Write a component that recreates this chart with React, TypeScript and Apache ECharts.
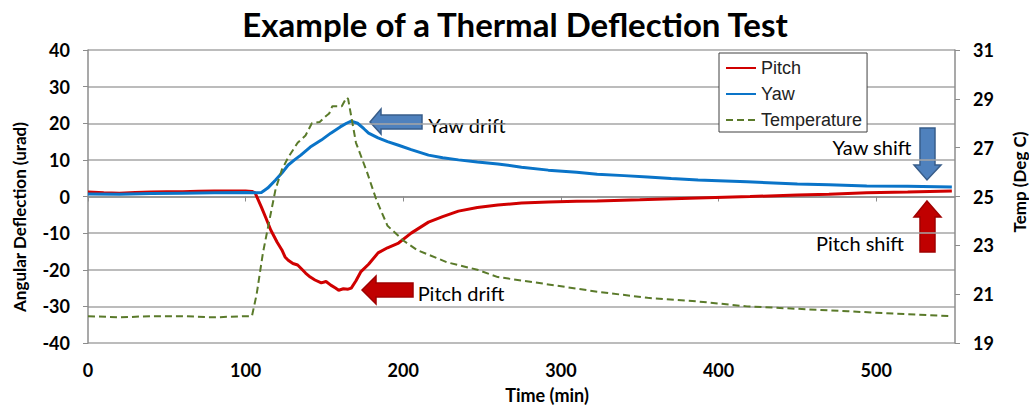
import React, { useEffect, useRef } from "react";
import * as echarts from "echarts";

const titleText = "Example of a Thermal Deflection Test";
const seriesNames = ["Pitch", "Yaw", "Temperature"];
const xTicks = [0, 100, 200, 300, 400, 500];
const tempTicks = [19, 21, 23, 25, 27, 29, 31];

const pitchTime = [0, 10, 20, 30, 40, 50, 60, 70, 80, 90, 100, 104, 106, 110, 113, 116, 120, 123, 125, 127, 130, 133, 136, 138, 141, 144, 148, 151, 154, 157, 159, 162, 165, 167, 170, 173, 178, 184, 190, 197, 205, 216, 225, 235, 247, 260, 275, 292, 310, 323, 350, 387, 420, 450, 470, 494, 520, 548];
const pitchVals = [1.2, 1.0, 0.9, 1.1, 1.2, 1.3, 1.3, 1.4, 1.5, 1.5, 1.5, 1.4, 1.0, -2.9, -6, -9.2, -12.5, -14.6, -16.5, -17.4, -18.3, -18.7, -20, -20.9, -22, -22.8, -23.6, -23.2, -24.2, -25, -25.6, -25.2, -25.3, -25, -23, -20.6, -18.5, -15.4, -14, -12.7, -10, -7, -5.5, -4, -3, -2.3, -1.8, -1.5, -1.3, -1.2, -0.9, -0.4, 0, 0.4, 0.6, 1.0, 1.2, 1.5];

const yawTime = [0, 20, 40, 60, 80, 100, 107, 110, 114, 119, 123, 127, 131, 135, 141, 148, 154, 160, 164, 167, 171, 175, 178, 184, 190, 197, 205, 216, 225, 235, 247, 260, 275, 292, 310, 323, 340, 355, 370, 387, 400, 418, 435, 450, 470, 494, 520, 548];
const yawVals = [0.7, 0.6, 0.8, 0.9, 1.0, 1.1, 1.0, 1.1, 2.3, 4.5, 6.4, 8.6, 10, 11.3, 13.5, 15.4, 17.3, 19, 20, 20.6, 20, 18.5, 17.3, 16, 15, 14, 12.8, 11.3, 10.6, 10, 9.4, 8.9, 8, 7.2, 6.6, 6.1, 5.7, 5.3, 4.9, 4.5, 4.3, 4, 3.7, 3.4, 3.2, 2.9, 2.8, 2.6];

const tempTime = [0, 20, 40, 60, 80, 100, 104, 107, 111, 115, 119, 123, 127, 133, 138, 142, 147, 151, 153, 155, 161, 164, 165, 170, 177, 183, 190, 200, 209, 228, 247, 260, 292, 323, 355, 387, 418, 450, 482, 513, 548];
const tempVals = [20.1, 20.05, 20.1, 20.1, 20.05, 20.1, 20.1, 21.0, 22.7, 24.0, 25.3, 26.1, 26.6, 27.2, 27.5, 28.0, 28.05, 28.3, 28.4, 28.7, 28.7, 29.05, 29.0, 27.2, 26.0, 24.85, 23.8, 23.2, 22.8, 22.3, 22.0, 21.7, 21.4, 21.1, 20.85, 20.7, 20.5, 20.4, 20.3, 20.2, 20.1];

const zip = (a: number[], b: number[]) => a.map((v, i) => [v, b[i]]);

const FONT = "Lato, 'DejaVu Sans', sans-serif";
const GRID = "#A6A6A6";
const AXIS = "#8C8C8C";

export default function App() {
  const ref = useRef<HTMLDivElement>(null);
  useEffect(() => {
    if (!ref.current) return;
    const chart = echarts.init(ref.current, null, { renderer: "svg" });
    const labelStyle = { color: "#000", fontFamily: FONT, fontWeight: "bold" as const, fontSize: 18 };
    const noteStyle = { fontFamily: FONT, fontSize: 20, fill: "#000", align: "center", verticalAlign: "middle", backgroundColor: "#fff", padding: [1, 3] };
    chart.setOption({
      animation: false,
      backgroundColor: "#fff",
      title: {
        text: titleText,
        left: 510,
        textAlign: "center",
        top: 2,
        textStyle: { fontFamily: FONT, fontWeight: "bold", fontSize: 33, color: "#000" },
      },
      legend: {
        data: seriesNames,
        orient: "vertical",
        left: 719,
        top: 53,
        padding: [6, 5, 3, 6],
        itemWidth: 30,
        itemHeight: 14,
        itemGap: 8,
        backgroundColor: "#fff",
        borderColor: "#404040",
        borderWidth: 1,
        itemStyle: { opacity: 0, color: "transparent", borderWidth: 0 },
        textStyle: { fontFamily: "'Liberation Sans', Arial, sans-serif", fontSize: 18, color: "#222", lineHeight: 18 },
      },
      grid: { left: 88, right: 74, top: 50, bottom: 64, containLabel: false },
      xAxis: [
        {
          type: "value",
          min: 0,
          max: 550,
          interval: 100,
          position: "bottom",
          axisLine: { show: true, onZero: true, lineStyle: { color: AXIS, width: 1.5 } },
          axisTick: { show: true, length: 5, customValues: xTicks, lineStyle: { color: AXIS } },
          axisLabel: { show: false },
          splitLine: { show: false },
        },
        {
          type: "value",
          min: 0,
          max: 550,
          interval: 100,
          position: "bottom",
          axisLine: { show: false, onZero: false },
          axisTick: { show: false },
          axisLabel: { ...labelStyle, margin: 18, customValues: xTicks },
          splitLine: { show: false },
        },
      ],
      yAxis: [
        {
          type: "value",
          min: -40,
          max: 40,
          interval: 10,
          position: "left",
          axisLine: { show: true, onZero: false, lineStyle: { color: AXIS, width: 1.5 } },
          axisTick: { show: true, length: 5, lineStyle: { color: AXIS } },
          axisLabel: { ...labelStyle, margin: 18 },
          splitLine: { show: true, lineStyle: { color: GRID, width: 1.5 } },
        },
        {
          type: "value",
          min: 19,
          max: 31,
          position: "right",
          axisLine: { show: true, onZero: false, lineStyle: { color: AXIS, width: 1.5 } },
          axisTick: { show: true, length: 5, customValues: tempTicks, lineStyle: { color: AXIS } },
          axisLabel: { ...labelStyle, margin: 18, customValues: tempTicks },
          splitLine: { show: false },
        },
      ],
      series: [
        {
          name: "Pitch",
          type: "line",
          xAxisIndex: 0,
          yAxisIndex: 0,
          data: zip(pitchTime, pitchVals),
          symbol: "none",
          showSymbol: false,
          lineStyle: { color: "#D00000", width: 3 },
          itemStyle: { color: "#D00000" },
        },
        {
          name: "Yaw",
          type: "line",
          xAxisIndex: 0,
          yAxisIndex: 0,
          data: zip(yawTime, yawVals),
          symbol: "none",
          showSymbol: false,
          lineStyle: { color: "#0A74C8", width: 3 },
          itemStyle: { color: "#0A74C8" },
        },
        {
          name: "Temperature",
          type: "line",
          xAxisIndex: 0,
          yAxisIndex: 1,
          data: zip(tempTime, tempVals),
          symbol: "none",
          showSymbol: false,
          lineStyle: { color: "#5A7A2A", width: 2, type: [7, 4] },
          itemStyle: { color: "#5A7A2A" },
        },
      ],
      graphic: [
        {
          type: "text",
          x: 19,
          y: 217,
          rotation: Math.PI / 2,
          style: { text: "Angular Deflection (urad)", fontFamily: FONT, fontWeight: "bold", fontSize: 17, fill: "#000", align: "center", verticalAlign: "middle" },
        },
        {
          type: "text",
          x: 1019,
          y: 182,
          rotation: Math.PI / 2,
          style: { text: "Temp (Deg C)", fontFamily: FONT, fontWeight: "bold", fontSize: 17, fill: "#000", align: "center", verticalAlign: "middle" },
        },
        {
          type: "text",
          x: 547,
          y: 395,
          style: { text: "Time (min)", fontFamily: FONT, fontWeight: "bold", fontSize: 18, fill: "#000", align: "center", verticalAlign: "middle" },
        },
        {
          type: "polygon",
          shape: { points: [[370, 122], [381, 109], [381, 115], [422, 115], [422, 129], [381, 129], [381, 134]] },
          style: { fill: "#4F81BD", stroke: "#385D8A", lineWidth: 1.5 },
        },
        { type: "text", x: 467, y: 125, style: { ...noteStyle, text: "Yaw drift" } },
        {
          type: "polygon",
          shape: { points: [[362, 290], [376, 276], [376, 283], [413, 283], [413, 297], [376, 297], [376, 304]] },
          style: { fill: "#C00000", stroke: "#A00000", lineWidth: 1.5 },
        },
        { type: "text", x: 461, y: 293, style: { ...noteStyle, text: "Pitch drift" } },
        {
          type: "polygon",
          shape: { points: [[920, 128], [935, 128], [935, 165], [941, 165], [927, 180], [914, 165], [920, 165]] },
          style: { fill: "#4F81BD", stroke: "#385D8A", lineWidth: 1.5 },
        },
        { type: "text", x: 872, y: 147, style: { ...noteStyle, text: "Yaw shift" } },
        {
          type: "polygon",
          shape: { points: [[927, 201], [941, 217], [935, 217], [935, 252], [920, 252], [920, 217], [914, 217]] },
          style: { fill: "#C00000", stroke: "#A00000", lineWidth: 1.5 },
        },
        { type: "text", x: 860, y: 243, style: { ...noteStyle, text: "Pitch shift" } },
      ],
    });
    return () => chart.dispose();
  }, []);
  return <div ref={ref} style={{ position: "fixed", left: 0, top: 0, width: 1029, height: 407 }} />;
}
